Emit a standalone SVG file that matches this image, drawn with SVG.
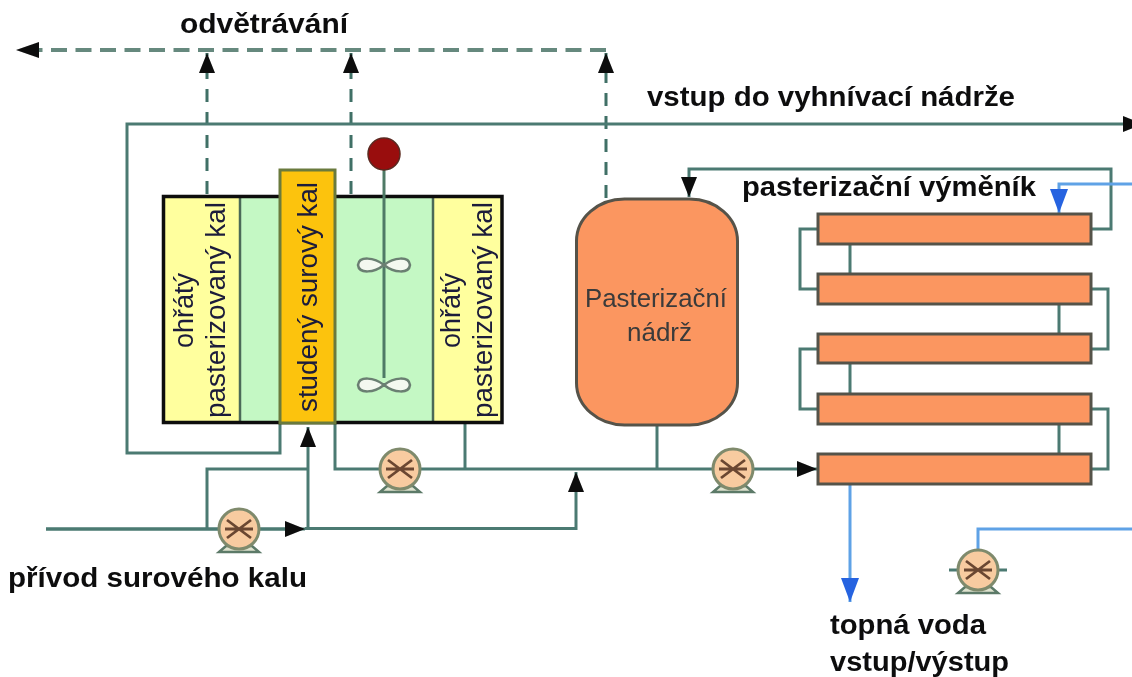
<svg xmlns="http://www.w3.org/2000/svg" width="1132" height="677" viewBox="0 0 1132 677">
<defs>
<filter id="soft" x="-2%" y="-2%" width="104%" height="104%"><feGaussianBlur stdDeviation="0.6"/></filter>
<marker id="ab" markerUnits="userSpaceOnUse" markerWidth="24" markerHeight="18" refX="20" refY="9" orient="auto"><path d="M0 1L20 9L0 17Z" fill="#0a0a0a"/></marker>
<marker id="ad" markerUnits="userSpaceOnUse" markerWidth="24" markerHeight="18" refX="20" refY="9" orient="auto"><path d="M0 1L20 9L0 17Z" fill="#0a0a0a"/></marker>
<marker id="abl" markerUnits="userSpaceOnUse" markerWidth="26" markerHeight="22" refX="24" refY="10" orient="auto"><path d="M0 1L24 10L0 19Z" fill="#2563e0"/></marker>
<g id="pump-shape">
<path d="M-20 23H20L13 17H-13Z" fill="#dfe3cf" stroke="#5c7a68" stroke-width="2.500"/>
<circle r="20" fill="#f8cba0" stroke="#7f8a6c" stroke-width="3"/>
<path d="M-12 -9L12 9M-12 9L12 -9M-14 0H14" stroke="#6a4630" stroke-width="2.800" fill="none"/>
</g>
<g id="impeller"><path d="M0 0C-10 -8 -25 -9 -26 0C-25 9 -10 8 0 0C10 -8 25 -9 26 0C25 9 10 8 0 0Z" fill="#f4f8f0" stroke="#6b7f72" stroke-width="2.500"/></g>
</defs>
<style>
.l{fill:none;stroke:#4b7a72;stroke-width:3}
.dh{fill:none;stroke:#66897e;stroke-width:4;stroke-dasharray:16 8.500}
.d{fill:none;stroke:#3f6f66;stroke-width:3;stroke-dasharray:13 10}
.b{fill:none;stroke:#5ea2e6;stroke-width:3}
.hx{fill:#fb9660;stroke:#55524a;stroke-width:3}
.t{font-family:"Liberation Sans",Arial,sans-serif;font-weight:bold;font-size:28px;fill:#0c0c10}
.v{font-family:"Liberation Sans",Arial,sans-serif;font-size:27px;fill:#1a1a3a}
.n{font-family:"Liberation Sans",Arial,sans-serif;font-size:25px;fill:#3a3a3a}
</style>
<rect width="1132" height="677" fill="#fff"/>
<g filter="url(#soft)">
<g id="connectors">
<path class="dh" d="M606 50H36"/>
<path d="M16 50L39 42V58Z" fill="#0a0a0a"/>
<path class="d" d="M207 194V53" marker-end="url(#ad)"/>
<path class="d" d="M351 194V53" marker-end="url(#ad)"/>
<path class="d" d="M606 198V53" marker-end="url(#ad)"/>
<path class="l" d="M280 423V453H127V124H1143" marker-end="url(#ab)"/>
<path class="l" d="M46 529H288"/>
<path class="l" d="M46 529H305" marker-end="url(#ab)"/>
<path class="l" d="M305 528.500H576V472" marker-end="url(#ab)"/>
<path class="l" d="M207 529V469H308"/>
<path class="l" d="M308 529V427" marker-end="url(#ab)"/>
<path class="l" d="M335 423V469H817" marker-end="url(#ab)"/>
<path class="l" d="M465 423V469"/>
<path class="l" d="M657 424V469"/>
<path class="l" d="M1091 229H1111V169H689V197" marker-end="url(#ab)"/>
<path class="l" d="M818 229H800V289H818M850 245V274"/>
<path class="l" d="M1091 289H1108V349H1091M1059 304V334"/>
<path class="l" d="M818 349H800V409H818M850 363V394"/>
<path class="l" d="M1091 409H1108V469H1091M1059 424V454"/>
<path class="b" d="M1132 184H1059V213" marker-end="url(#abl)"/>
<path class="b" d="M850 485V602" marker-end="url(#abl)"/>
<path class="b" d="M978 550V529H1132"/>
<path class="l" d="M949 570H1007"/>
</g>
<g id="digester">
<rect x="164" y="197" width="76" height="226" fill="#ffff9e"/>
<rect x="240" y="197" width="40" height="226" fill="#c4f8c4"/>
<rect x="335" y="197" width="98" height="226" fill="#c4f8c4"/>
<rect x="433" y="197" width="69" height="226" fill="#ffff9e"/>
<path d="M240 197V423M433 197V423" stroke="#4b6a58" stroke-width="2.500"/>
<path d="M163.500 196.500H502V422.500H163.500Z" fill="none" stroke="#0a0a0a" stroke-width="3.500"/>
<rect x="280" y="170" width="55" height="253" fill="#fcc30c" stroke="#6b7a3c" stroke-width="3"/>
<path d="M384 168V378" stroke="#4f7a66" stroke-width="3"/>
<circle cx="384" cy="154" r="16" fill="#990a10" stroke="#5a2a20" stroke-width="1.500"/>
<use href="#impeller" x="384" y="265"/>
<use href="#impeller" x="384" y="385"/>
<text class="v" transform="translate(193,348) rotate(-90)" textLength="75" lengthAdjust="spacingAndGlyphs">ohřátý</text>
<text class="v" transform="translate(225,418) rotate(-90)" textLength="216" lengthAdjust="spacingAndGlyphs">pasterizovaný kal</text>
<text class="v" transform="translate(317,412) rotate(-90)" textLength="230" lengthAdjust="spacingAndGlyphs">studený surový kal</text>
<text class="v" transform="translate(460,348) rotate(-90)" textLength="75" lengthAdjust="spacingAndGlyphs">ohřátý</text>
<text class="v" transform="translate(492,418) rotate(-90)" textLength="216" lengthAdjust="spacingAndGlyphs">pasterizovaný kal</text>
</g>
<g id="pasteurization-tank">
<rect x="576.500" y="199" width="161" height="226" rx="48" ry="42" fill="#fb9660" stroke="#55524a" stroke-width="3"/>
<text class="n" x="585" y="307" textLength="142" lengthAdjust="spacingAndGlyphs">Pasterizační</text>
<text class="n" x="627" y="341" textLength="65" lengthAdjust="spacingAndGlyphs">nádrž</text>
</g>
<g id="heat-exchanger">
<rect class="hx" x="818" y="214" width="273" height="30"/>
<rect class="hx" x="818" y="274" width="273" height="30"/>
<rect class="hx" x="818" y="334" width="273" height="29"/>
<rect class="hx" x="818" y="394" width="273" height="30"/>
<rect class="hx" x="818" y="454" width="273" height="30"/>
</g>
<g id="pump-1"><use href="#pump-shape" x="239" y="529"/></g>
<g id="pump-2"><use href="#pump-shape" x="400" y="469"/></g>
<g id="pump-3"><use href="#pump-shape" x="733" y="469"/></g>
<g id="pump-4"><use href="#pump-shape" x="978" y="570"/></g>
<g id="labels">
<text class="t" x="180" y="33" textLength="168" lengthAdjust="spacingAndGlyphs">odvětrávání</text>
<text class="t" x="647" y="106" textLength="368" lengthAdjust="spacingAndGlyphs">vstup do vyhnívací nádrže</text>
<text class="t" x="742" y="196" textLength="294" lengthAdjust="spacingAndGlyphs">pasterizační výměník</text>
<text class="t" x="8" y="587" textLength="299" lengthAdjust="spacingAndGlyphs">přívod surového kalu</text>
<text class="t" x="830" y="634" textLength="156" lengthAdjust="spacingAndGlyphs">topná voda</text>
<text class="t" x="830" y="671" textLength="179" lengthAdjust="spacingAndGlyphs">vstup/výstup</text>
</g>
</g>
</svg>
